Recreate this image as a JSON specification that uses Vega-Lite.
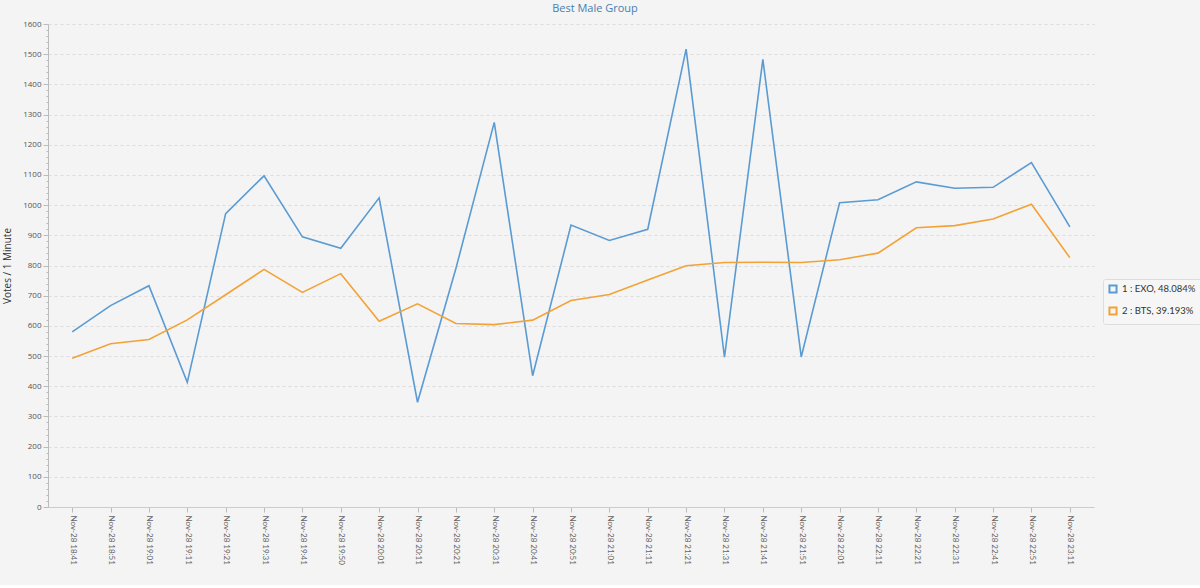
{
  "$schema": "https://vega.github.io/schema/vega-lite/v6.json",
  "width": 1046,
  "height": 483,
  "padding": {"left": 2, "top": 3, "right": 0, "bottom": 20},
  "autosize": {"type": "pad"},
  "background": "#f4f4f4",
  "title": {"text": "Best Male Group", "fontSize": 11, "font": "Open Sans", "fontWeight": "normal", "color": "#4a7db0", "anchor": "middle", "dx": 24, "offset": 6},
  "config": {
    "view": {"stroke": null},
    "font": "Open Sans"
  },
  "data": {
    "values": [
      {"time": "Nov-28 18:41", "series": "1 : EXO, 48.084%", "votes": 580},
      {"time": "Nov-28 18:51", "series": "1 : EXO, 48.084%", "votes": 667},
      {"time": "Nov-28 19:01", "series": "1 : EXO, 48.084%", "votes": 733},
      {"time": "Nov-28 19:11", "series": "1 : EXO, 48.084%", "votes": 413},
      {"time": "Nov-28 19:21", "series": "1 : EXO, 48.084%", "votes": 972},
      {"time": "Nov-28 19:31", "series": "1 : EXO, 48.084%", "votes": 1097},
      {"time": "Nov-28 19:41", "series": "1 : EXO, 48.084%", "votes": 895},
      {"time": "Nov-28 19:50", "series": "1 : EXO, 48.084%", "votes": 857},
      {"time": "Nov-28 20:01", "series": "1 : EXO, 48.084%", "votes": 1024},
      {"time": "Nov-28 20:11", "series": "1 : EXO, 48.084%", "votes": 347},
      {"time": "Nov-28 20:21", "series": "1 : EXO, 48.084%", "votes": 790},
      {"time": "Nov-28 20:31", "series": "1 : EXO, 48.084%", "votes": 1274},
      {"time": "Nov-28 20:41", "series": "1 : EXO, 48.084%", "votes": 435},
      {"time": "Nov-28 20:51", "series": "1 : EXO, 48.084%", "votes": 934},
      {"time": "Nov-28 21:01", "series": "1 : EXO, 48.084%", "votes": 883},
      {"time": "Nov-28 21:11", "series": "1 : EXO, 48.084%", "votes": 920},
      {"time": "Nov-28 21:21", "series": "1 : EXO, 48.084%", "votes": 1517},
      {"time": "Nov-28 21:31", "series": "1 : EXO, 48.084%", "votes": 496},
      {"time": "Nov-28 21:41", "series": "1 : EXO, 48.084%", "votes": 1483},
      {"time": "Nov-28 21:51", "series": "1 : EXO, 48.084%", "votes": 497},
      {"time": "Nov-28 22:01", "series": "1 : EXO, 48.084%", "votes": 1008},
      {"time": "Nov-28 22:11", "series": "1 : EXO, 48.084%", "votes": 1018},
      {"time": "Nov-28 22:21", "series": "1 : EXO, 48.084%", "votes": 1077},
      {"time": "Nov-28 22:31", "series": "1 : EXO, 48.084%", "votes": 1056},
      {"time": "Nov-28 22:41", "series": "1 : EXO, 48.084%", "votes": 1059},
      {"time": "Nov-28 22:51", "series": "1 : EXO, 48.084%", "votes": 1141},
      {"time": "Nov-28 23:11", "series": "1 : EXO, 48.084%", "votes": 928},
      {"time": "Nov-28 18:41", "series": "2 : BTS, 39.193%", "votes": 493},
      {"time": "Nov-28 18:51", "series": "2 : BTS, 39.193%", "votes": 541},
      {"time": "Nov-28 19:01", "series": "2 : BTS, 39.193%", "votes": 555},
      {"time": "Nov-28 19:11", "series": "2 : BTS, 39.193%", "votes": 620},
      {"time": "Nov-28 19:21", "series": "2 : BTS, 39.193%", "votes": 703},
      {"time": "Nov-28 19:31", "series": "2 : BTS, 39.193%", "votes": 787},
      {"time": "Nov-28 19:41", "series": "2 : BTS, 39.193%", "votes": 711},
      {"time": "Nov-28 19:50", "series": "2 : BTS, 39.193%", "votes": 773},
      {"time": "Nov-28 20:01", "series": "2 : BTS, 39.193%", "votes": 615},
      {"time": "Nov-28 20:11", "series": "2 : BTS, 39.193%", "votes": 673},
      {"time": "Nov-28 20:21", "series": "2 : BTS, 39.193%", "votes": 608},
      {"time": "Nov-28 20:31", "series": "2 : BTS, 39.193%", "votes": 604},
      {"time": "Nov-28 20:41", "series": "2 : BTS, 39.193%", "votes": 619},
      {"time": "Nov-28 20:51", "series": "2 : BTS, 39.193%", "votes": 684},
      {"time": "Nov-28 21:01", "series": "2 : BTS, 39.193%", "votes": 704},
      {"time": "Nov-28 21:11", "series": "2 : BTS, 39.193%", "votes": 752},
      {"time": "Nov-28 21:21", "series": "2 : BTS, 39.193%", "votes": 799},
      {"time": "Nov-28 21:31", "series": "2 : BTS, 39.193%", "votes": 810},
      {"time": "Nov-28 21:41", "series": "2 : BTS, 39.193%", "votes": 811},
      {"time": "Nov-28 21:51", "series": "2 : BTS, 39.193%", "votes": 810},
      {"time": "Nov-28 22:01", "series": "2 : BTS, 39.193%", "votes": 819},
      {"time": "Nov-28 22:11", "series": "2 : BTS, 39.193%", "votes": 841},
      {"time": "Nov-28 22:21", "series": "2 : BTS, 39.193%", "votes": 925},
      {"time": "Nov-28 22:31", "series": "2 : BTS, 39.193%", "votes": 932},
      {"time": "Nov-28 22:41", "series": "2 : BTS, 39.193%", "votes": 954},
      {"time": "Nov-28 22:51", "series": "2 : BTS, 39.193%", "votes": 1003},
      {"time": "Nov-28 23:11", "series": "2 : BTS, 39.193%", "votes": 826}
    ]
  },
  "mark": {"type": "line", "strokeWidth": 1.6},
  "encoding": {
    "x": {
      "field": "time",
      "type": "ordinal",
      "sort": null,
      "scale": {"type": "point", "padding": 0.63},
      "axis": {
        "title": null,
        "labelAngle": 90,
        "labelAlign": "left",
        "labelBaseline": "middle",
        "labelFont": "Lato",
        "labelFontSize": 8,
        "labelColor": "#666",
        "labelPadding": 3,
        "tickColor": "#bbb",
        "tickSize": 5,
        "domainColor": "#ccc",
        "grid": false
      }
    },
    "y": {
      "field": "votes",
      "type": "quantitative",
      "scale": {"domain": [0, 1600], "nice": false},
      "axis": {
        "title": "Votes / 1 Minute",
        "titleFontSize": 10,
        "titleFontWeight": "normal",
        "titleColor": "#333",
        "titlePadding": 10,
        "format": "d",
        "values": [0,20,40,60,80,100,120,140,160,180,200,220,240,260,280,300,320,340,360,380,400,420,440,460,480,500,520,540,560,580,600,620,640,660,680,700,720,740,760,780,800,820,840,860,880,900,920,940,960,980,1000,1020,1040,1060,1080,1100,1120,1140,1160,1180,1200,1220,1240,1260,1280,1300,1320,1340,1360,1380,1400,1420,1440,1460,1480,1500,1520,1540,1560,1580,1600],
        "labelExpr": "datum.value % 100 === 0 ? datum.label : ''",
        "labelFontSize": 8,
        "labelColor": "#555",
        "labelPadding": 2,
        "tickColor": "#bbb",
        "tickSize": {"condition": {"test": "datum.value % 100 === 0", "value": 5}, "value": 2},
        "domainColor": "#bbb",
        "grid": true,
        "gridColor": "#dcdcdc",
        "gridDash": [3, 3],
        "gridOpacity": {"condition": {"test": "datum.value % 100 === 0", "value": 1}, "value": 0}
      }
    },
    "color": {
      "field": "series",
      "type": "nominal",
      "scale": {"domain": ["1 : EXO, 48.084%", "2 : BTS, 39.193%"], "range": ["#5a9bd3", "#f2a236"]},
      "legend": {
        "title": null,
        "orient": "none",
        "legendX": 1055,
        "legendY": 255,
        "symbolType": "square",
        "symbolSize": 50,
        "symbolStrokeWidth": 2,
        "symbolFillColor": "transparent",
        "labelFont": "Lato",
        "labelFontSize": 9.5,
        "labelColor": "#333",
        "labelOffset": 4,
        "rowPadding": 6,
        "padding": 5,
        "strokeColor": "#dddddd",
        "fillColor": "#f6f6f6",
        "cornerRadius": 2
      }
    }
  }
}
